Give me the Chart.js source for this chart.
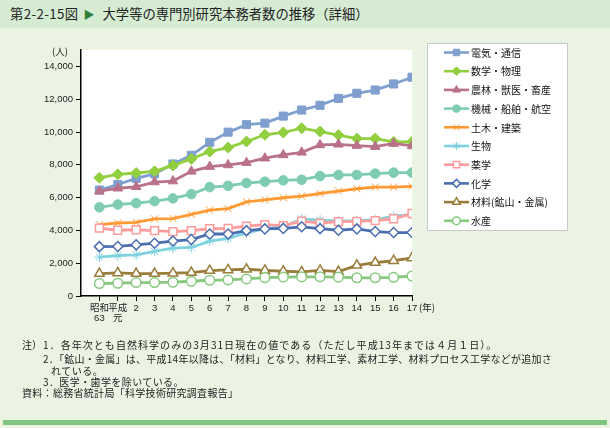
<!DOCTYPE html>
<html><head><meta charset="utf-8">
<script src="https://cdn.jsdelivr.net/npm/chart.js@4/dist/chart.umd.min.js"></script>
<style>
html,body{margin:0;padding:0;}
body{width:610px;height:428px;position:relative;background:#ebf4e3;overflow:hidden;font-family:"Noto Sans CJK JP",sans-serif;color:#222;}
#band{position:absolute;left:0;top:0;width:610px;height:28px;background:#d5ecd3;}
#title{position:absolute;left:10px;top:6px;font-size:13.3px;line-height:16px;white-space:nowrap;color:#222;}
#title .num{letter-spacing:0.4px;}
#title .tri{color:#2f7f3a;font-size:11px;margin:0 8px 0 5px;}
#cv{position:absolute;left:0;top:0;}
.t{position:absolute;white-space:nowrap;font-size:10px;line-height:12px;color:#222;}
#bar{position:absolute;left:3px;top:420px;width:604px;height:5px;background:#7fc47f;}
</style></head>
<body>
<div id="band"></div>
<div id="title"><span class="num">第2-2-15図</span><span class="tri">▶</span>大学等の専門別研究本務者数の推移（詳細）</div>
<canvas id="cv" width="610" height="428"></canvas>
<div class="t" style="left:52px;top:45px;font-size:9.5px;">(人)</div>
<div class="t" style="left:419px;top:301px;font-size:9.5px;">(年)</div>
<div class="t" style="left:22px;top:339px;">注）</div>
<div class="t" style="left:43px;top:339px;letter-spacing:1.05px;">1．各年次とも自然科学のみの3月31日現在の値である（ただし平成13年までは４月１日）。</div>
<div class="t" style="left:43px;top:353px;letter-spacing:0.25px;">2．「鉱山・金属」は、平成14年以降は、「材料」となり、材料工学、素材工学、材料プロセス工学などが追加さ</div>
<div class="t" style="left:51px;top:365px;letter-spacing:0.5px;">れている。</div>
<div class="t" style="left:43px;top:376px;letter-spacing:0.4px;">3．医学・歯学を除いている。</div>
<div class="t" style="left:22px;top:387px;letter-spacing:0.3px;">資料：総務省統計局「科学技術研究調査報告」</div>
<div id="bar"></div>
<script>
const yearLabels = [['昭和','63'],['平成','元'],'2','3','4','5','6','7','8','9','10','11','12','13','14','15','16','17'];
const yTicks = [0,2000,4000,6000,8000,10000,12000,14000];

const denki   = [6460,6800,7170,7450,8050,8580,9370,9990,10450,10540,10970,11340,11630,12050,12360,12560,12930,13340];
const suugaku = [7210,7420,7500,7600,7960,8360,8810,9050,9420,9830,9970,10230,10030,9810,9600,9600,9400,9400];
const nourin  = [6390,6570,6660,6950,7010,7600,7890,7990,8130,8400,8600,8760,9210,9250,9170,9110,9300,9150];
const kikai   = [5410,5580,5660,5780,5950,6210,6640,6720,6890,6970,7050,7090,7310,7380,7380,7460,7520,7520];
const doboku  = [4350,4450,4490,4700,4720,4980,5230,5330,5740,5860,5990,6090,6250,6400,6540,6640,6640,6680];
const seibutsu= [2370,2470,2510,2720,2920,2960,3350,3520,3850,4110,4210,4700,4630,4580,4600,4650,4850,4990];
const yakugaku= [4140,4010,4040,3990,3930,3990,4100,4120,4260,4350,4290,4560,4450,4540,4550,4600,4710,5030];
const kagaku  = [3010,3020,3120,3220,3350,3440,3780,3780,3985,4090,4120,4220,4110,4010,4090,3930,3870,3870];
const zairyou = [1370,1410,1370,1370,1390,1430,1550,1590,1630,1560,1510,1470,1560,1490,1870,2040,2150,2320];
const suisan  = [760,780,820,820,840,900,960,980,1040,1120,1150,1165,1170,1150,1110,1110,1140,1220];

const seriesNames = ['電気・通信','数学・物理','農林・獣医・畜産','機械・船舶・航空','土木・建築','生物','薬学','化学','材料(鉱山・金属)','水産'];
const seriesValues = [denki,suugaku,nourin,kikai,doboku,seibutsu,yakugaku,kagaku,zairyou,suisan];

const styles = [
  {c:'#7f9fcf', p:'rect', r:5.7, fill:true},
  {c:'#92cf3f', p:'rectRot', r:5.5, fill:true},
  {c:'#b9728a', p:'triangle', r:5.5, fill:true},
  {c:'#7fcdb0', p:'circle', r:4.8, fill:true},
  {c:'#ff9933', p:'crossRot', r:5, fill:true},
  {c:'#7fd2e0', p:'star', r:5, fill:true},
  {c:'#ff9b9b', p:'rect', r:5.5, fill:false},
  {c:'#4a6eb0', p:'rectRot', r:5, fill:false},
  {c:'#9a7d3a', p:'triangle', r:5.5, fill:false},
  {c:'#86c97d', p:'circle', r:4.8, fill:false}
];

const datasets = seriesValues.map((vals,i)=>({
  label: seriesNames[i],
  data: vals.map((v,j)=>({x:j,y:v})),
  borderColor: styles[i].c,
  backgroundColor: styles[i].fill ? styles[i].c : '#ffffff',
  pointBackgroundColor: styles[i].fill ? styles[i].c : '#ffffff',
  pointBorderColor: styles[i].c,
  pointStyle: styles[i].p,
  pointRadius: styles[i].r,
  pointBorderWidth: styles[i].fill ? 1 : 1.5,
  borderWidth: 2.8,
  tension: 0,
  order: 20 - i
}));

const bgPlugin = {
  id:'bg',
  beforeDraw(chart){
    const {ctx, chartArea:a} = chart;
    ctx.save(); ctx.fillStyle='#ffffff';
    ctx.fillRect(a.left, a.top, a.right-a.left, a.bottom-a.top);
    ctx.restore();
  }
};

const legendPlugin = {
  id:'customLegend',
  afterDraw(chart){
    const ctx = chart.ctx;
    ctx.save();
    ctx.fillStyle='#ffffff'; ctx.strokeStyle='#c8c8c8'; ctx.lineWidth=1;
    ctx.fillRect(427.5,43.5,140,187); ctx.strokeRect(427.5,43.5,140,187);
    chart.data.datasets.forEach((ds,i)=>{
      const y = 52.5 + i*18.7;
      ctx.strokeStyle = ds.borderColor; ctx.lineWidth = 2.6;
      ctx.beginPath(); ctx.moveTo(444,y); ctx.lineTo(469,y); ctx.stroke();
      ctx.fillStyle = ds.pointBackgroundColor; ctx.strokeStyle = ds.pointBorderColor;
      ctx.lineWidth = ds.pointBorderWidth;
      Chart.helpers.drawPoint(ctx,{pointStyle:ds.pointStyle, radius:ds.pointRadius*0.8, rotation:0, borderWidth:ds.pointBorderWidth},456.5,y);
      ctx.fillStyle='#111'; ctx.font='10px "Noto Sans CJK JP"'; ctx.textBaseline='middle'; ctx.textAlign='left';
      ctx.fillText(ds.label, 471, y+0.5);
    });
    ctx.restore();
  }
};

new Chart(document.getElementById('cv'), {
  type:'line',
  data:{datasets},
  plugins:[bgPlugin, legendPlugin],
  options:{
    responsive:false, animation:false, devicePixelRatio:1,
    layout:{padding:{left:0,right:198,top:50,bottom:92}},
    plugins:{legend:{display:false}, tooltip:{enabled:false}},
    scales:{
      x:{
        type:'linear', min:-1, max:17,
        afterBuildTicks(s){ s.ticks = yearLabels.map((_,i)=>({value:i})); },
        afterFit(s){ s.height = 40; },
        ticks:{autoSkip:false, maxRotation:0, padding:2, color:'#222',
          font:{family:"'Liberation Sans','Noto Sans CJK JP',sans-serif", size:9.5, lineHeight:1.1},
          callback:(v)=>yearLabels[v]},
        grid:{drawOnChartArea:false, drawTicks:true, tickLength:5, color:'#000', lineWidth:1},
        border:{display:true, color:'#000', width:1.5}
      },
      y:{
        type:'linear', min:0, max:15000,
        afterBuildTicks(s){ s.ticks = yTicks.map(v=>({value:v})); },
        afterFit(s){ s.width = 81; },
        ticks:{padding:3, color:'#222',
          font:{family:"'Liberation Sans',sans-serif", size:9.5},
          callback:(v)=>v.toLocaleString('en-US')},
        grid:{drawOnChartArea:false, drawTicks:true, tickLength:5, color:'#000', lineWidth:1},
        border:{display:true, color:'#000', width:1.5}
      }
    }
  }
});
</script>
</body></html>
